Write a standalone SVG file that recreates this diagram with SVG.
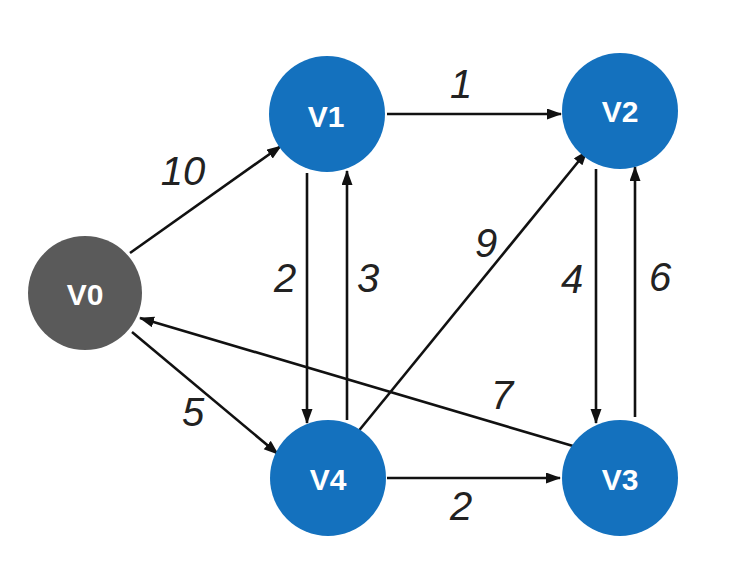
<svg xmlns="http://www.w3.org/2000/svg" width="746" height="566" viewBox="0 0 746 566">
<style>
.blue{fill:#1471BE}
.grey{fill:#5A5A5A}
.nl{font-family:"Liberation Sans",Arial,sans-serif;font-size:30px;font-weight:bold;fill:#ffffff;text-anchor:middle}
.el{font-family:"Liberation Sans",Arial,sans-serif;font-size:40px;font-style:italic;fill:#222222;text-anchor:middle}
.e{stroke:#111111;stroke-width:2.6;fill:none;marker-end:url(#ah)}
</style>
<defs>
<marker id="ah" markerUnits="userSpaceOnUse" markerWidth="16" markerHeight="12" refX="14" refY="5.5" orient="auto">
<path d="M0,0 L15,5.5 L0,11 z" fill="#111111"/>
</marker>
</defs>
<rect width="746" height="566" fill="#ffffff"/>
<g id="connectors">
<line class="e" x1="130" y1="253" x2="281" y2="146"/>
<line class="e" x1="387" y1="114" x2="561" y2="114"/>
<line class="e" x1="307" y1="173" x2="307" y2="423"/>
<line class="e" x1="347" y1="420" x2="347" y2="171"/>
<line class="e" x1="357" y1="433" x2="587" y2="151"/>
<line class="e" x1="596" y1="169" x2="596" y2="423"/>
<line class="e" x1="635" y1="417" x2="635" y2="167"/>
<line class="e" x1="573" y1="446" x2="140" y2="318"/>
<line class="e" x1="132" y1="332" x2="278" y2="454"/>
<line class="e" x1="387" y1="478" x2="560" y2="478"/>
</g>
<g id="edge-labels">
<text class="el" x="183" y="185">10</text>
<text class="el" x="461" y="98">1</text>
<text class="el" x="285" y="292">2</text>
<text class="el" x="368" y="292">3</text>
<text class="el" x="486" y="257">9</text>
<text class="el" x="572" y="293">4</text>
<text class="el" x="660" y="291">6</text>
<text class="el" x="502" y="409">7</text>
<text class="el" x="193" y="426">5</text>
<text class="el" x="461" y="520">2</text>
</g>
<g id="V0"><circle class="grey" cx="85" cy="293" r="57"/><text class="nl" x="85" y="305">V0</text></g>
<g id="V1"><circle class="blue" cx="327" cy="114" r="58"/><text class="nl" x="326" y="127">V1</text></g>
<g id="V2"><circle class="blue" cx="620" cy="111" r="58"/><text class="nl" x="620" y="122">V2</text></g>
<g id="V4"><circle class="blue" cx="328" cy="478" r="58"/><text class="nl" x="328" y="490">V4</text></g>
<g id="V3"><circle class="blue" cx="620" cy="478" r="58"/><text class="nl" x="620" y="490">V3</text></g>
</svg>
